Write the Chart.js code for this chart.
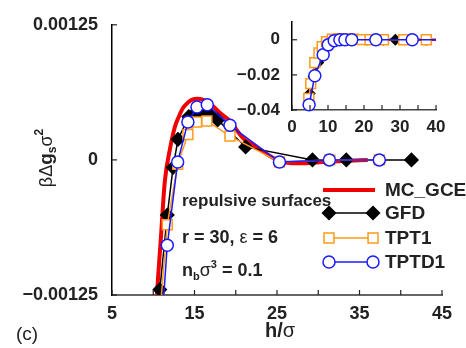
<!DOCTYPE html>
<html>
<head>
<meta charset="utf-8">
<script src="https://cdn.jsdelivr.net/npm/chart.js@4"></script>
<style>
  html, body { margin: 0; padding: 0; background: #fff; }
  #wrap { position: relative; width: 466px; height: 348px; }
  #main { position: absolute; left: 0; top: 0; }
  #inset { position: absolute; left: 230px; top: 0; }
</style>
</head>
<body>
<div id="wrap">
  <canvas id="main" width="466" height="348"></canvas>
  <canvas id="inset" width="236" height="140"></canvas>
</div>
<script>
// main panel: h/sigma and beta*dg*sigma^2
const mcH = [10.0, 10.45, 10.9, 11.4, 12.0, 12.6, 13.1, 13.6, 14.2, 14.8, 15.4, 15.9, 16.5, 17.2, 18.0, 19.3, 20.9, 22.9, 24.5, 25.8, 26.8, 28.5, 30.5, 33, 36];
const mcG = [-0.0019, -0.00125, -0.00075, -0.0002, 0.00009, 0.0003, 0.0004, 0.00048, 0.00053, 0.00056, 0.000565, 0.00056, 0.00054, 0.0005, 0.00044, 0.00036, 0.0002, 0.0001, 0.00002, -0.00002, -0.00003, -0.00003, -0.00002, -0.00001, 0];

const gfdH = [10.8, 11.7, 12.4, 13.0, 14.3, 14.9, 15.6, 16.3, 17.0, 17.8, 21.2, 29.3, 33.4, 41.3];
const gfdG = [-0.0012, -0.00051, -0.00007, 0.00019, 0.0004, 0.00042, 0.00043, 0.00043, 0.00041, 0.00037, 0.00012, 0, 0, 0];

const tptH = [10.5, 11.7, 12.96, 14.2, 15.25, 16.5, 19.3, 25.3, 31.4, 37.4];
const tptG = [-0.0017, -0.0006, -0.00004, 0.000235, 0.00035, 0.00036, 0.00022, -0.00002, 0, 0];

const tpdH = [10.6, 11.7, 12.96, 14.2, 15.3, 16.55, 19.3, 25.3, 31.35, 37.4];
const tpdG = [-0.002, -0.00079, -0.00002, 0.00035, 0.00049, 0.00051, 0.00032, -0.00002, 0, 0];

// inset panel
const insMcH = [4.6, 5.0, 5.6, 6.3, 7.0, 8.0, 9.0, 10.0, 11.0, 12.0, 13.5, 15, 20, 26, 28, 30, 34, 40];
const insMcG = [-0.039, -0.033, -0.025, -0.018, -0.0125, -0.0075, -0.0045, -0.0025, -0.0012, -0.0005, -0.0001, 0, 0, 0, 0, 0, 0, 0];

const insGfdH = [4.95, 6.0, 7.3, 8.6, 10.0, 11.5, 13.0, 14.5, 16.0, 17.5, 20.8, 25.4, 28.7, 37.3];
const insGfdG = [-0.0306, -0.021, -0.013, -0.0075, -0.0035, -0.001, 0, 0.0002, 0.0002, 0.0001, 0, 0, 0, 0];

const insTptH = [4.67, 5.2, 6.34, 7.5, 8.4, 9.6, 11.2, 13.0, 15.0, 17.0, 19.5, 21.7, 25.4, 31.0, 37.3];
const insTptG = [-0.0334, -0.025, -0.013, -0.0075, -0.0039, -0.0011, 0.0003, 0.0006, 0.0005, 0.0003, 0.0001, 0, 0, 0, 0];

const insTpdH = [4.75, 6.34, 8.66, 10.06, 11.73, 13.3, 14.7, 16.6, 23.3, 33.4, 40];
const insTpdG = [-0.037, -0.0205, -0.0085, -0.0029, -0.0005, 0, 0, 0, 0, 0, 0];

const seriesNames = ['MC_GCE', 'GFD', 'TPT1', 'TPTD1'];

const RED = '#f00000', BLACK = '#000', ORANGE = '#ff9a1a', BLUE = '#1a1aff';
const FONT = '"Liberation Sans", Arial, sans-serif';

function pts(xs, ys) { return xs.map((x, i) => ({ x: x, y: ys[i] })); }

function makeSets(src, small) {
  return [
    { label: seriesNames[0], data: pts(src[0], src[1]), borderColor: RED, borderWidth: small ? 2.5 : 4,
      pointRadius: 0, tension: 0.4, cubicInterpolationMode: 'monotone', order: 4 },
    { label: seriesNames[1], data: pts(src[2], src[3]), borderColor: BLACK, borderWidth: 1.5,
      pointStyle: 'rectRot', pointRadius: small ? 5 : 6.5, pointBackgroundColor: BLACK, pointBorderColor: BLACK, order: 3 },
    { label: seriesNames[2], data: pts(src[4], src[5]), borderColor: ORANGE, borderWidth: 1.5,
      pointStyle: 'rect', pointRadius: 7, pointBackgroundColor: '#fff', pointBorderColor: ORANGE, pointBorderWidth: 1.5, order: 2 },
    { label: seriesNames[3], data: pts(src[6], src[7]), borderColor: BLUE, borderWidth: 1.5,
      pointStyle: 'circle', pointRadius: src[6].map(h => h >= 40 ? 0 : 6), pointBackgroundColor: '#fff', pointBorderColor: BLUE, pointBorderWidth: 1.5, order: 1 }
  ];
}

// inward tick marks drawn from the scales
const inTicks = {
  id: 'inTicks',
  afterDraw(chart) {
    const ctx = chart.ctx, a = chart.chartArea;
    const xs = chart.scales.x, ys = chart.scales.y;
    ctx.save();
    ctx.lineWidth = 1.2;
    ctx.strokeStyle = '#222';
    xs.ticks.forEach(t => {
      const p = xs.getPixelForValue(t.value);
      ctx.beginPath(); ctx.moveTo(p, a.bottom); ctx.lineTo(p, a.bottom - 5); ctx.stroke();
    });
    ys.ticks.forEach(t => {
      const p = ys.getPixelForValue(t.value);
      ctx.beginPath(); ctx.moveTo(a.left, p); ctx.lineTo(a.left + 5, p); ctx.stroke();
    });
    ctx.restore();
  }
};

function rich(ctx, x, y, parts) {
  let cx = x;
  parts.forEach(p => {
    ctx.font = p.f;
    ctx.fillText(p.t, cx, y + (p.dy || 0));
    cx += ctx.measureText(p.t).width;
  });
  return cx - x;
}
function richWidth(ctx, parts) {
  let w = 0;
  parts.forEach(p => { ctx.font = p.f; w += ctx.measureText(p.t).width; });
  return w;
}

function marker(ctx, style, x, y, r, fill, stroke) {
  ctx.save();
  ctx.fillStyle = fill; ctx.strokeStyle = stroke; ctx.lineWidth = 1.5;
  ctx.beginPath();
  if (style === 'circle') {
    ctx.arc(x, y, r, 0, Math.PI * 2);
  } else if (style === 'rect') {
    const s = r * Math.SQRT1_2;
    ctx.rect(x - s, y - s, 2 * s, 2 * s);
  } else if (style === 'rectRot') {
    ctx.moveTo(x - r, y); ctx.lineTo(x, y - r); ctx.lineTo(x + r, y); ctx.lineTo(x, y + r); ctx.closePath();
  }
  ctx.fill(); ctx.stroke();
  ctx.restore();
}

const decor = {
  id: 'decor',
  afterDraw(chart) {
    const ctx = chart.ctx;
    ctx.save();
    ctx.fillStyle = '#222';
    ctx.textBaseline = 'alphabetic';

    // y title
    const yParts = [
      { t: '\u03b2\u0394', f: '18px ' + FONT },
      { t: 'g', f: 'bold 19px ' + FONT },
      { t: 's', f: 'bold 12px ' + FONT, dy: 4 },
      { t: '\u03c3', f: '18px ' + FONT },
      { t: '2', f: 'bold 12px ' + FONT, dy: -9 }
    ];
    ctx.save();
    ctx.translate(52, 158);
    ctx.rotate(-Math.PI / 2);
    rich(ctx, -richWidth(ctx, yParts) / 2, 0, yParts);
    ctx.restore();

    // x title
    const xParts = [
      { t: 'h/', f: 'bold 20px ' + FONT },
      { t: '\u03c3', f: '20px ' + FONT }
    ];
    rich(ctx, 280 - richWidth(ctx, xParts) / 2, 337, xParts);

    ctx.font = '19px ' + FONT;
    ctx.fillText('(c)', 16, 340);

    // notes
    ctx.font = 'bold 17px ' + FONT;
    ctx.fillText('repulsive surfaces', 182, 206);
    rich(ctx, 182, 243, [
      { t: 'r = 30, ', f: 'bold 18px ' + FONT },
      { t: '\u03b5', f: '18px ' + FONT },
      { t: ' = 6', f: 'bold 18px ' + FONT }
    ]);
    rich(ctx, 182, 276, [
      { t: 'n', f: 'bold 18px ' + FONT },
      { t: 'b', f: 'bold 11px ' + FONT, dy: 4 },
      { t: '\u03c3', f: '18px ' + FONT },
      { t: '3', f: 'bold 11px ' + FONT, dy: -8 },
      { t: ' = 0.1', f: 'bold 18px ' + FONT }
    ]);

    // legend
    const rows = [190, 213, 238, 262];
    chart.data.datasets.forEach((ds, i) => {
      const y = rows[i];
      ctx.save();
      ctx.strokeStyle = ds.borderColor;
      ctx.lineWidth = ds.borderWidth;
      ctx.beginPath();
      ctx.moveTo(i === 0 ? 323 : 329, y);
      ctx.lineTo(i === 0 ? 375 : 373, y);
      ctx.stroke();
      ctx.restore();
      if (i > 0) {
        const r = Array.isArray(ds.pointRadius) ? 6 : ds.pointRadius;
        marker(ctx, ds.pointStyle, 329, y, r, ds.pointBackgroundColor, ds.pointBorderColor);
        marker(ctx, ds.pointStyle, 373, y, r, ds.pointBackgroundColor, ds.pointBorderColor);
      }
      ctx.fillStyle = '#222';
      ctx.font = 'bold 19px ' + FONT;
      ctx.textBaseline = 'middle';
      ctx.fillText(ds.label, 385, y + 1);
    });
    ctx.restore();
  }
};

function minus(s) { return s.replace('-', '\u2212'); }

new Chart(document.getElementById('main'), {
  type: 'line',
  data: { datasets: makeSets([mcH, mcG, gfdH, gfdG, tptH, tptG, tpdH, tpdG], false) },
  options: {
    responsive: false,
    animation: false,
    devicePixelRatio: 1,
    layout: { padding: { top: 20, right: 24, left: 0, bottom: 0 } },
    plugins: { legend: { display: false }, tooltip: { enabled: false } },
    scales: {
      x: {
        type: 'linear', min: 5, max: 45,
        grid: { display: false, drawTicks: false },
        border: { color: '#666', width: 2 },
        afterFit: s => { s.height = 53; },
        ticks: {
          stepSize: 5, autoSkip: false, maxRotation: 0, padding: 8, color: '#222',
          font: { family: FONT, size: 18, weight: 'bold' },
          callback: v => (v % 10 === 5 ? String(v) : '')
        }
      },
      y: {
        type: 'linear', min: -0.00125, max: 0.00125,
        grid: { display: false, drawTicks: false },
        border: { color: '#000', width: 1.5 },
        afterFit: s => { s.width = 112; },
        ticks: {
          stepSize: 0.00125, padding: 14, color: '#222',
          font: { family: FONT, size: 18, weight: 'bold' },
          callback: v => (Math.abs(v) < 1e-9 ? '0' : minus(v.toFixed(5)))
        }
      }
    }
  },
  plugins: [inTicks, decor]
});

const insetSets = makeSets([insMcH, insMcG, insGfdH, insGfdG, insTptH, insTptG, insTpdH, insTpdG], true);
insetSets.forEach(d => { d.clip = false; });

new Chart(document.getElementById('inset'), {
  type: 'line',
  data: { datasets: insetSets },
  options: {
    responsive: false,
    animation: false,
    devicePixelRatio: 1,
    layout: { padding: { top: 20, right: 30, left: 0, bottom: 0 } },
    plugins: { legend: { display: false }, tooltip: { enabled: false } },
    scales: {
      x: {
        type: 'linear', min: 0, max: 40,
        grid: { display: false, drawTicks: false },
        border: { color: '#444', width: 1.5 },
        afterFit: s => { s.height = 30; },
        ticks: {
          stepSize: 5, autoSkip: false, maxRotation: 0, padding: 7, color: '#222',
          font: { family: FONT, size: 17, weight: 'bold' },
          callback: v => (v % 10 === 0 ? String(v) : '')
        }
      },
      y: {
        type: 'linear', min: -0.04, max: 0.01,
        grid: { display: false, drawTicks: false },
        border: { color: '#000', width: 1.5 },
        afterFit: s => { s.width = 62; },
        ticks: {
          stepSize: 0.01, padding: 12, color: '#222',
          font: { family: FONT, size: 17, weight: 'bold' },
          callback: v => {
            const k = Math.round(v * 100);
            if (k === 0) return '0';
            return k % 2 === 0 ? minus(v.toFixed(2)) : '';
          }
        }
      }
    }
  },
  plugins: [inTicks]
});
</script>
</body>
</html>
